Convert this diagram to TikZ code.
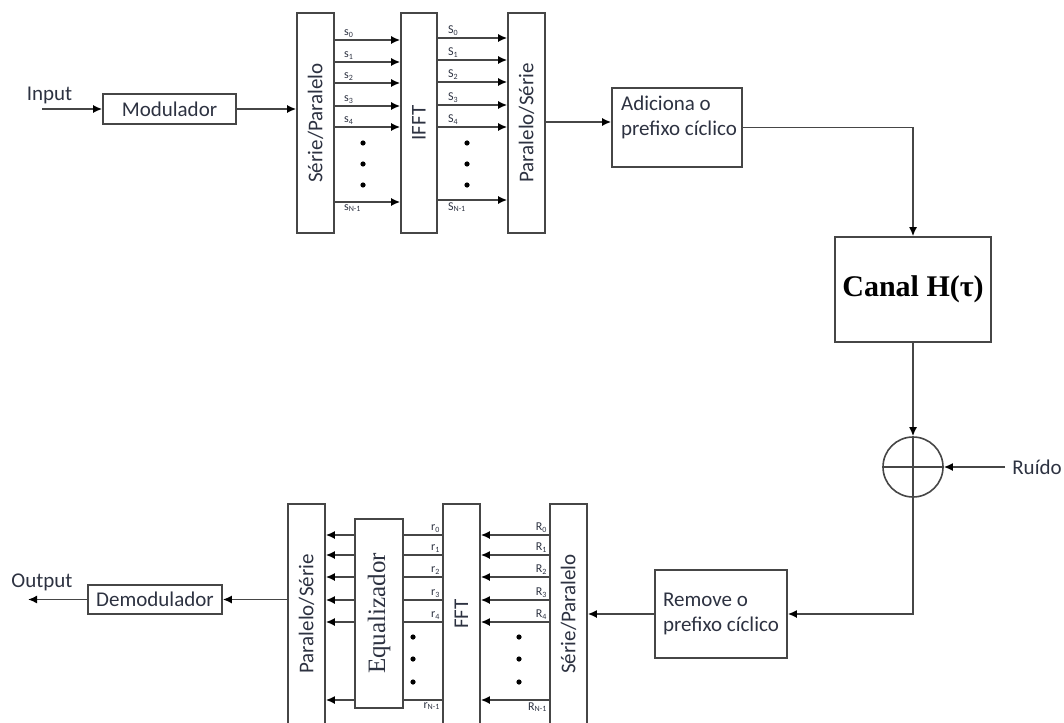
\documentclass[tikz,border=0pt]{standalone}
\usepackage{fontspec}
\setmainfont{Carlito}
\newfontfamily\tmsfont{Liberation Serif}
\usetikzlibrary{arrows.meta}
\definecolor{linec}{RGB}{70,70,70}
\definecolor{txtc}{RGB}{45,50,65}

\begin{document}
\begin{tikzpicture}[x=1pt,y=-1pt,
    blk/.style={draw=linec,line width=1.6pt,inner sep=2pt,font=\fontsize{21}{25}\selectfont,text=txtc},
    tall/.style={blk,minimum width=37pt,minimum height=220pt},
    txt/.style={font=\fontsize{21}{25}\selectfont,text=txtc,inner sep=0pt},
    rot/.style={txt,rotate=90},
    lbl/.style={font=\fontsize{12}{14}\selectfont,text=txtc,inner sep=1.5pt},
    ln/.style={draw=linec,line width=1.6pt},
    arr/.style={ln,-{Latex[length=9pt,width=8pt,color=black]}}]
  \clip (0,0) rectangle (1064,722);
  \node[blk,minimum width=133pt,minimum height=30pt] (modu) at (169.5,109) {Modulador};
  \node[tall] (sp1) at (315.5,123) {};
  \node[rot] (sp1t) at (sp1) {Série/Paralelo};
  \node[tall,minimum width=36pt] (ifft) at (419,123) {};
  \node[rot] (ifftt) at (ifft) {IFFT};
  \node[tall] (ps1) at (526.5,123) {};
  \node[rot] (ps1t) at (ps1) {Paralelo/Série};
  \node[blk,minimum width=130pt,minimum height=79pt] (adic) at (677,127.5) {};
  \node[txt,align=left] (adict) at (679,117) {Adiciona o\\prefixo cíclico};
  \node[blk,minimum width=156pt,minimum height=105pt,text=black,
        font=\tmsfont\bfseries\fontsize{30}{34}\selectfont] (canal) at (913,289.5) {Canal H(τ)};
  \node[draw=linec,line width=1.6pt,circle,minimum size=60pt,inner sep=0pt] (sum) at (913,467) {};
  \node[txt] (ruido) at (1037,467) {Ruído};
  \node[blk,minimum width=132pt,minimum height=88pt,align=left] (rem) at (721,614) {Remove o\\prefixo cíclico};
  \node[tall] (sp2) at (568.5,614) {};
  \node[rot] (sp2t) at (sp2) {Série/Paralelo};
  \node[tall] (fft) at (461.5,614) {};
  \node[rot] (fftt) at (fft) {FFT};
  \node[blk,minimum width=48pt,minimum height=189pt] (eq) at (379,613.5) {};
  \node[rot,font=\tmsfont\fontsize{25}{28}\selectfont] (eqt) at (eq) {Equalizador};
  \node[tall] (ps2) at (306.5,614) {};
  \node[rot] (ps2t) at (ps2) {Paralelo/Série};
  \node[blk,minimum width=134pt,minimum height=29pt] (demod) at (155,599.5) {Demodulador};
  \node[txt] (inp) at (49.5,95) {Input};
  \node[txt] (outp) at (42,582) {Output};
  \coordinate (inpc) at (42,109);
  \coordinate (outc) at (28,599.5);
  \coordinate (ruidoc) at (1005,467);

  \draw[arr] (inpc) -- (modu.west);
  \draw[arr] (modu.east) -- (modu.east -| sp1.west);
  \draw[arr] (ps1.east |- 0,122) -- (adic.west |- 0,122);
  \draw[arr] (adic.east) -| (canal.north);
  \draw[arr] (canal.south) -- (sum.north);
  \draw[arr] (ruidoc) -- (sum.east);
  \draw[ln] (sum.north) -- (sum.south) (sum.west) -- (sum.east);
  \draw[arr] (sum.south) |- (rem.east);
  \draw[arr] (rem.west) -- (rem.west -| sp2.east);
  \draw[arr] (ps2.west |- demod.east) -- (demod.east);
  \draw[arr] (demod.west) -- (outc);

  \foreach \y/\k in {40/0,62/1,83/2,106/3,127/4} {
    \draw[arr] (sp1.east |- 0,\y) -- (ifft.west |- 0,\y)
      node[lbl,pos=0,anchor=south west,xshift=7pt] (sl\k) {s\textsubscript{\k}};
  }
  \draw[arr] (sp1.east |- 0,202) -- (ifft.west |- 0,202)
    node[lbl,pos=0,anchor=north west,xshift=7pt] (slN) {s\textsubscript{N-1}};
  \foreach \y/\k in {38/0,60/1,82/2,105/3,127/4} {
    \draw[arr] (ifft.east |- 0,\y) -- (ps1.west |- 0,\y)
      node[lbl,pos=0,anchor=south west,xshift=8pt] (Sl\k) {S\textsubscript{\k}};
  }
  \draw[arr] (ifft.east |- 0,200) -- (ps1.west |- 0,200)
    node[lbl,pos=0,anchor=north west,xshift=8pt] (SlN) {S\textsubscript{N-1}};
  \foreach \y in {143,164,185} {
    \fill[black] (363,\y) circle (2.6);
    \fill[black] (467,\y) circle (2.6);
  }

  \foreach \y/\k in {535/0,555/1,577/2,600/3,622/4} {
    \draw[arr] (sp2.west |- 0,\y) -- (fft.east |- 0,\y)
      node[lbl,pos=0,anchor=south east] (Rl\k) {R\textsubscript{\k}};
    \draw[ln] (fft.west |- 0,\y) -- (eq.east |- 0,\y)
      node[lbl,pos=0,anchor=south east] (rl\k) {r\textsubscript{\k}};
    \draw[arr] (eq.west |- 0,\y) -- (ps2.east |- 0,\y);
  }
  \draw[arr] (sp2.west |- 0,700) -- (fft.east |- 0,700)
    node[lbl,pos=0,anchor=north east] (RlN) {R\textsubscript{N-1}};
  \draw[ln] (fft.west |- 0,700) -- (eq.east |- 0,700)
    node[lbl,pos=0,anchor=north east] (rlN) {r\textsubscript{N-1}};
  \draw[arr] (eq.west |- 0,700) -- (ps2.east |- 0,700);
  \foreach \y in {637,659,682} {
    \fill[black] (413,\y) circle (2.6);
    \fill[black] (519,\y) circle (2.6);
  }
\end{tikzpicture}
\end{document}
